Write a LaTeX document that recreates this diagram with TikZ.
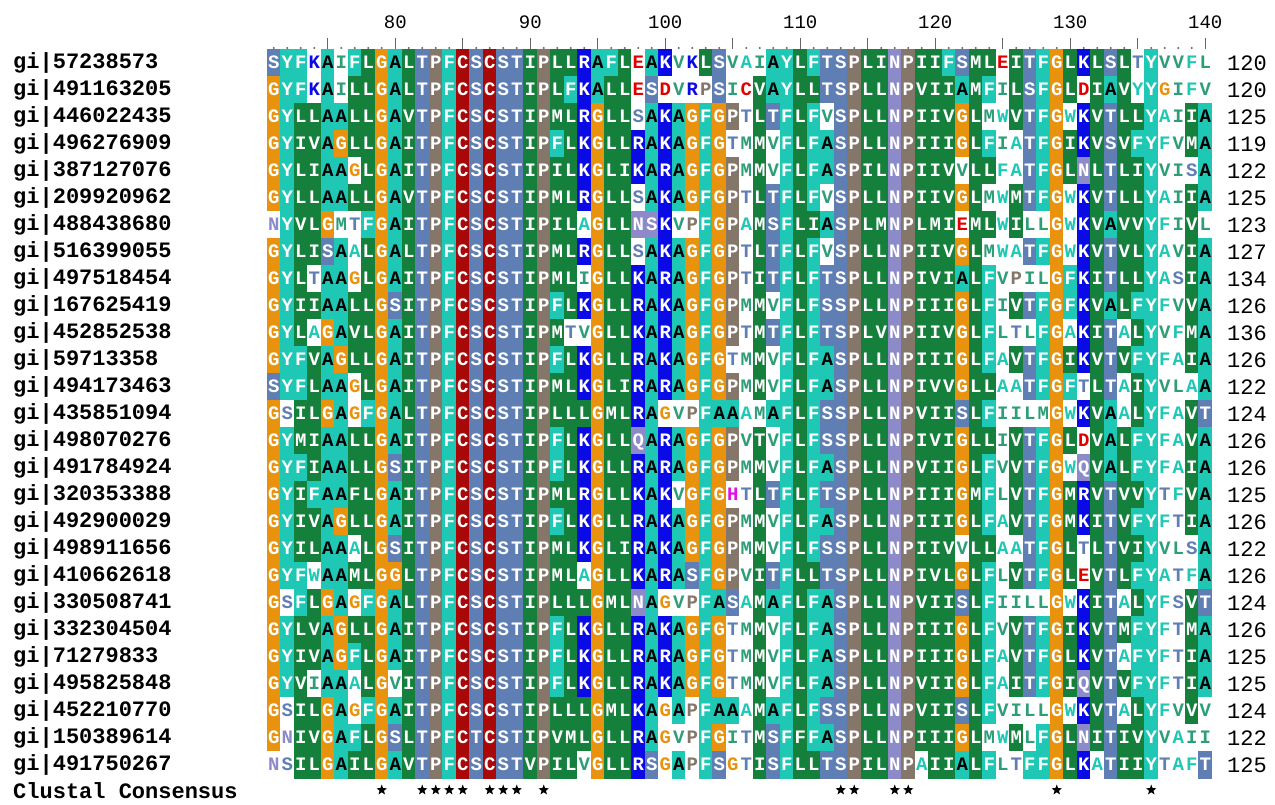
\documentclass[tikz,border=0pt]{standalone}
\usepackage{fontspec}
\setmonofont{Liberation Mono}
\usetikzlibrary{shapes.geometric}

\definecolor{bgo}{HTML}{E8920E}
\definecolor{bgr}{HTML}{A80808}
\definecolor{bgs}{HTML}{5F7FB4}
\definecolor{bgp}{HTML}{85766A}
\definecolor{bgb}{HTML}{0A0AE6}
\definecolor{bgt}{HTML}{1EC8B4}
\definecolor{bgg}{HTML}{14803C}
\definecolor{bgn}{HTML}{8C8AC8}
\definecolor{bgw}{HTML}{FFFFFF}
\definecolor{txhyd}{HTML}{2E9E78}
\colorlet{txG}{bgo}\colorlet{txS}{bgs}\colorlet{txT}{bgs}\colorlet{txP}{bgp}
\colorlet{txK}{bgb}\colorlet{txR}{bgb}\colorlet{txN}{bgn}\colorlet{txQ}{bgn}
\colorlet{txA}{bgt}\colorlet{txF}{bgt}\colorlet{txY}{bgt}\colorlet{txW}{bgt}
\colorlet{txL}{txhyd}\colorlet{txI}{txhyd}\colorlet{txV}{txhyd}\colorlet{txM}{txhyd}
\definecolor{txE}{HTML}{E00000}\colorlet{txD}{txE}\colorlet{txC}{txE}
\definecolor{txH}{HTML}{E010E0}

\newcount\alnrow
\newcount\alnres
\makeatletter
% colour codes are read down a column, residues along a row
\def\setsame#1#2{\foreach \rr in {1,...,27}{\expandafter\xdef\csname cc@#1@\rr\endcsname{#2}}}
\def\setcol#1#2{\alnrow=0 \def\colpos{#1}\setcol@#2\relax}
\def\setcol@#1{\ifx#1\relax\else
    \advance\alnrow by 1
    \expandafter\xdef\csname cc@\colpos @\the\alnrow\endcsname{#1}%
    \expandafter\setcol@\fi}
\def\seqrow#1#2#3#4{\alnrow=#1 \alnres=70
  \node[lbl] (gi#1) at (13,{63+27*(#1-1)}) {gi|#2};
  \seqrow@#3\relax
  \node[lenlbl] (len#1) at (1227,{63+27*(#1-1)}) {#4};}
\def\seqrow@#1{\ifx#1\relax\else
    \advance\alnres by 1
    \rescell{#1}%
    \expandafter\seqrow@\fi}
\def\rescell#1{\edef\rescode{\csname cc@\the\alnres @\the\alnrow\endcsname}%
  \edef\resbg{bg\rescode}%
  \if w\rescode \def\resfg{tx#1}\else\if A#1\def\resfg{black}\else\def\resfg{white}\fi\fi
  \node[res, fill=\resbg, text=\resfg] (r\the\alnrow-\the\alnres) at ({273.75+13.5*(\the\alnres-71)},{63+27*(\the\alnrow-1)}) {#1};}
\makeatother

\begin{document}
\begin{tikzpicture}[x=1pt, y=-1pt,
    res/.style={rectangle, inner sep=0pt, minimum width=13.6pt, minimum height=27.2pt, text height=10.5pt, text depth=0pt, font=\ttfamily\bfseries\fontsize{19}{19}\selectfont},
    lbl/.style={anchor=west, inner sep=0pt, font=\ttfamily\bfseries\fontsize{22}{22}\selectfont},
    lenlbl/.style={anchor=west, inner sep=0pt, font=\ttfamily\fontsize{22}{22}\selectfont},
    num/.style={inner sep=0pt, font=\ttfamily\fontsize{19}{19}\selectfont},
    rulebar/.style={rectangle, fill=gray!80!black, inner sep=0pt, minimum width=1.2pt, minimum height=13pt},
    ruledot/.style={circle, fill=gray!80!black, inner sep=0pt, minimum size=2.2pt},
    cons/.style={star, star points=5, star point ratio=2.4, fill=black, inner sep=0pt, minimum size=11pt}]
\useasboundingbox (0,0) rectangle (1275,804);
\fill[white] (0,0) rectangle (1275,804);

\foreach \p in {71,...,140}{\setsame{\p}{w}}
\foreach \p/\c in {79/o,81/g,82/s,83/p,84/t,85/r,86/s,87/r,88/s,89/s,90/g,91/p,97/g,106/w,109/t,110/g,113/s,114/p,115/g,116/g,117/n,118/p,120/g,123/g,125/w,129/o,136/t,137/w,138/w}{\setsame{\p}{\c}}
\setcol{71}{sooooowoo ooosooooo oooooooow}
\setcol{72}{ttttttttt ttttwtttt ttwtttwww}
\setcol{73}{ttggggggg ggttggtgg gttgggggg}
\setcol{74}{wwggggggw gwgggggtg gwgggwggg}
\setcol{75}{ttttttost tottotttt ttotttooo}
\setcol{76}{wwtottwtt ttottttto tttootttt}
\setcol{77}{tgggwgwww gggwwgggg wgwgtwwtg}
\setcol{78}{ggggggtgg ggggtgggg ggtgggtgg}
\setcol{80}{ttttttttt stttttstt sotttwtst}
\setcol{92}{gggtggggg tgtggttgt gggtttggg}
\setcol{93}{gtggggggg gwggggggg ggggggggg}
\setcol{94}{bbbbbbwbw bwbbgbbbb bwgbbbggw}
\setcol{95}{ttooooooo ooooooooo ooooooooo}
\setcol{96}{tgggggggg ggggggggg ggggggggg}
\setcol{98}{wwwbbwnwb bbbbbnbbb bbnbbbbbb}
\setcol{99}{tsttttntt ttttttttt tttttttts}
\setcol{100}{bwbbbbbbb bbbbwbbbb bbwbbbwww}
\setcol{101}{wwttttwtt ttttwttwt ttwttttwt}
\setcol{102}{wwoooowoo oooowoooo oswooowww}
\setcol{103}{gwttttttt ttttttttt ttttttttt}
\setcol{104}{ssooooooo ooootoooo ootoootos}
\setcol{105}{wwpwppppp ppwptppwp ppswwwtww}
\setcol{107}{wgggggggg ggggwgggg ggggggggg}
\setcol{108}{ttswwssss wswwtwwsw wstwwwtss}
\setcol{111}{tgttttgtt ttttttttt tgttttttg}
\setcol{112}{sswttwtws ssttsstst ssttttsts}
\setcol{119}{ggggggggg ggggggggg ggggggggw}
\setcol{121}{tgggggggg ggggggggg ggggggggg}
\setcol{122}{stoowowot oooosoooo wosooosot}
\setcol{124}{gtwtgwgwt tttgtgttt gttttttwt}
\setcol{126}{gggwwggww gwgwwgggg wgwgggwgw}
\setcol{127}{sssssswsw swsswssss sswssswwt}
\setcol{128}{ttttttwtw ttttwtttt ttwtttwtt}
\setcol{130}{ggwggwwwt twgtwgwgg ggwgggwgg}
\setcol{131}{bwbbnbbbb bbbwbwnbb wwbbbnbnb}
\setcol{132}{ggggggggg ggggggggg ggggggggw}
\setcol{133}{stsssstss tssstttss sssssssss}
\setcol{134}{ggggggggg gwgwwgggg ggwgwgwgg}
\setcol{135}{wwgtggggg tgtggttgt gtgtttggg}
\setcol{139}{wwggwgggg gggwggggg wwgggggww}
\setcol{140}{wwttttwtt ttttstttt ttstttwws}

\foreach \p in {71,...,140}{
  \pgfmathtruncatemacro\tk{mod(\p,5)}
  \ifnum\tk=0 \node[rulebar] (tick\p) at ({273.75+13.5*(\p-71)},44) {};
  \else \node[ruledot] (tick\p) at ({273.75+13.5*(\p-71)},48) {};
  \fi}
\foreach \n in {80,90,...,140} \node[num] (pos\n) at ({273.75+13.5*(\n-71)},22) {\n};

\seqrow{1}{57238573}{SYFKAIFLGA LTPFCSCSTI PLLRAFLEAK VKLSVAIAYL FTSPLINPII FSMLEITFGL KLSLTYVVFL}{120}
\seqrow{2}{491163205}{GYFKAILLGA LTPFCSCSTI PLFKALLESD VRPSICVAYL LTSPLLNPVI IAMFILSFGL DIAVYYGIFV}{120}
\seqrow{3}{446022435}{GYLLAALLGA VTPFCSCSTI PMLRGLLSAK AGFGPTLTFL FVSPLLNPII VGLMWVTFGW KVTLLYAIIA}{125}
\seqrow{4}{496276909}{GYIVAGLLGA ITPFCSCSTI PFLKGLLRAK AGFGTMMVFL FASPLLNPII IGLFIATFGI KVSVFYFVMA}{119}
\seqrow{5}{387127076}{GYLIAAGLGA ITPFCSCSTI PILKGLIKAR AGFGPMMVFL FASPILNPII VVLLFATFGL NLTLIYVISA}{122}
\seqrow{6}{209920962}{GYLLAALLGA VTPFCSCSTI PMLRGLLSAK AGFGPTLTFL FVSPLLNPII VGLMWMTFGW KVTLLYAIIA}{125}
\seqrow{7}{488438680}{NYVLGMTFGA ITPFCSCSTI PILAGLLNSK VPFGPAMSFL IASPLMNPLM IEMLWILLGW KVAVVYFIVL}{123}
\seqrow{8}{516399055}{GYLISAALGA LTPFCSCSTI PMLRGLLSAK AGFGPTLTFL FVSPLLNPII VGLMWATFGW KVTVLYAVIA}{127}
\seqrow{9}{497518454}{GYLTAAGLGA ITPFCSCSTI PMLIGLLKAR AGFGPTITFL FTSPLLNPIV IALFVPILGF KITLLYASIA}{134}
\seqrow{10}{167625419}{GYIIAALLGS ITPFCSCSTI PFLKGLLRAK AGFGPMMVFL FSSPLLNPII IGLFIVTFGF KVALFYFVVA}{126}
\seqrow{11}{452852538}{GYLAGAVLGA ITPFCSCSTI PMTVGLLKAR AGFGPTMTFL FTSPLVNPII VGLFLTLFGA KITALYVFMA}{136}
\seqrow{12}{59713358}{GYFVAGLLGA ITPFCSCSTI PFLKGLLRAK AGFGTMMVFL FASPLLNPII IGLFAVTFGI KVTVFYFAIA}{126}
\seqrow{13}{494173463}{SYFLAAGLGA ITPFCSCSTI PMLKGLIRAR AGFGPMMVFL FASPLLNPIV VGLLAATFGF TLTAIYVLAA}{122}
\seqrow{14}{435851094}{GSILGAGFGA LTPFCSCSTI PLLLGMLRAG VPFAAAMAFL FSSPLLNPVI ISLFIILMGW KVAALYFAVT}{124}
\seqrow{15}{498070276}{GYMIAALLGA ITPFCSCSTI PFLKGLLQAR AGFGPVTVFL FSSPLLNPIV IGLLIVTFGL DVALFYFAVA}{126}
\seqrow{16}{491784924}{GYFIAALLGS ITPFCSCSTI PFLKGLLRAR AGFGPMMVFL FASPLLNPVI IGLFVVTFGW QVALFYFAIA}{126}
\seqrow{17}{320353388}{GYIFAAFLGA ITPFCSCSTI PMLRGLLKAK VGFGHTLTFL FTSPLLNPII IGMFLVTFGM RVTVVYTFVA}{125}
\seqrow{18}{492900029}{GYIVAGLLGA ITPFCSCSTI PFLKGLLRAK AGFGPMMVFL FASPLLNPII IGLFAVTFGM KITVFYFTIA}{126}
\seqrow{19}{498911656}{GYILAAALGS ITPFCSCSTI PMLKGLIRAK AGFGPMMVFL FSSPLLNPII VVLLAATFGL TLTVIYVLSA}{122}
\seqrow{20}{410662618}{GYFWAAMLGG LTPFCSCSTI PMLAGLLKAR ASFGPVITFL LTSPLLNPIV LGLFLVTFGL EVTLFYATFA}{126}
\seqrow{21}{330508741}{GSFLGAGFGA LTPFCSCSTI PLLLGMLNAG VPFASAMAFL FASPLLNPVI ISLFIILLGW KITALYFSVT}{124}
\seqrow{22}{332304504}{GYLVAGLLGA ITPFCSCSTI PFLKGLLRAK AGFGTMMVFL FASPLLNPII IGLFVVTFGI KVTMFYFTMA}{126}
\seqrow{23}{71279833}{GYIVAGFLGA ITPFCSCSTI PFLKGLLRAR AGFGTMMVFL FASPLLNPII IGLFAVTFGL KVTAFYFTIA}{125}
\seqrow{24}{495825848}{GYVIAAALGV ITPFCSCSTI PFLKGLLRAK AGFGTMMVFL FASPLLNPVI IGLFAITFGI QVTVFYFTIA}{125}
\seqrow{25}{452210770}{GSILGAGFGA ITPFCSCSTI PLLLGMLKAG APFAAAMAFL FSSPLLNPVI ISLFVILLGW KVTALYFVVV}{124}
\seqrow{26}{150389614}{GNIVGAFLGS LTPFCTCSTI PVMLGLLRAG VPFGITMSFF FASPLLNPII IGLMWMLFGL NITIVYVAII}{122}
\seqrow{27}{491750267}{NSILGAILGA VTPFCSCSTV PILVGLLRSG APFSGTISFL LTSPILNPAI IALFLTFFGL KATIIYTAFT}{125}

\node[lbl] (consensus) at (13,791) {Clustal Consensus};
\foreach \p in {79,82,83,84,85,87,88,89,91,113,114,117,118,129,136}
  \node[cons] (star\p) at ({273.75+13.5*(\p-71)},790) {};
\end{tikzpicture}
\end{document}
